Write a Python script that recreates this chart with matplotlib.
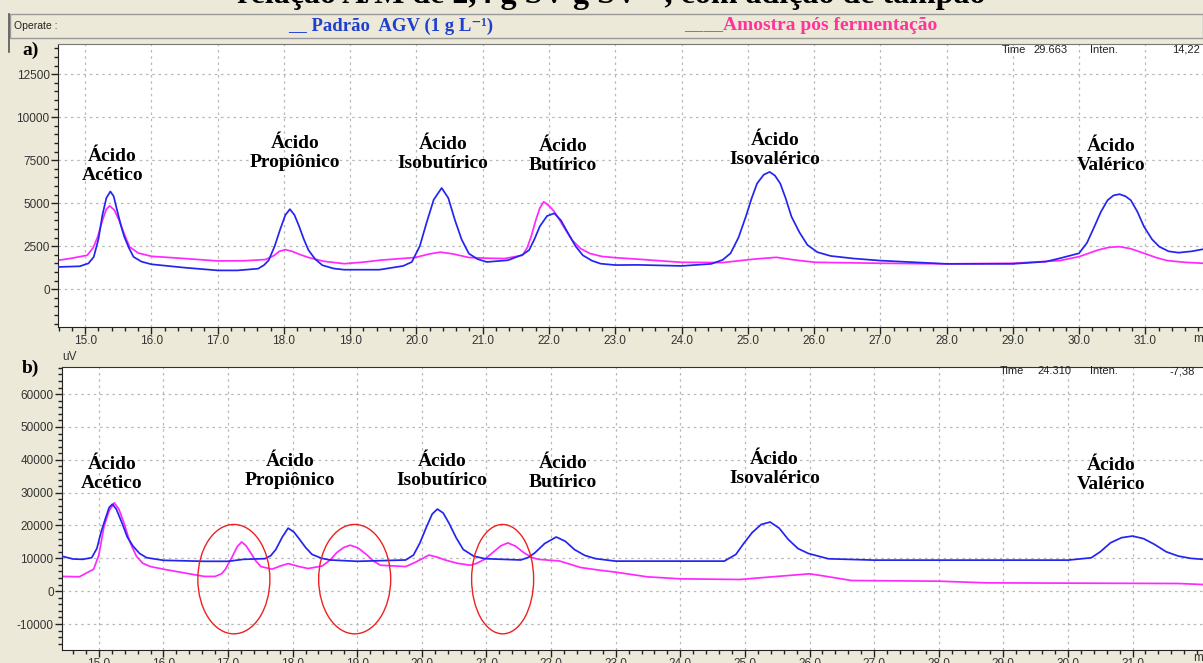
import numpy as np
import matplotlib
matplotlib.use("Agg")
import matplotlib.pyplot as plt
from matplotlib.patches import Ellipse, Rectangle
from matplotlib.ticker import MultipleLocator, FixedLocator, FormatStrFormatter

# --- panel a) : standard (blue) and sample (magenta), time in min, intensity in uV
t_a_std = [14.60, 14.92, 15.05, 15.13, 15.20, 15.26, 15.32, 15.38, 15.43, 15.48, 15.54, 15.59, 15.66,
           15.73, 15.85, 16.00, 16.50, 17.00, 17.30, 17.61, 17.70, 17.77, 17.86, 17.94, 18.02, 18.09,
           18.16, 18.23, 18.30, 18.37, 18.47, 18.58, 18.75, 18.91, 19.44, 19.80, 19.93, 20.05, 20.15,
           20.26, 20.38, 20.48, 20.58, 20.68, 20.79, 20.92, 21.06, 21.38, 21.60, 21.70, 21.78, 21.86,
           21.97, 22.08, 22.18, 22.29, 22.40, 22.51, 22.65, 22.78, 23.00, 23.35, 24.00, 24.45, 24.62,
           24.74, 24.86, 24.97, 25.06, 25.14, 25.24, 25.33, 25.41, 25.49, 25.57, 25.66, 25.78, 25.90,
           26.05, 26.25, 26.60, 27.00, 28.00, 29.00, 29.50, 29.71, 30.00, 30.12, 30.23, 30.33, 30.43,
           30.52, 30.61, 30.70, 30.78, 30.88, 30.98, 31.10, 31.21, 31.35, 31.50, 31.70, 31.87]
i_a_std = [1290, 1330, 1500, 1875, 2900, 4300, 5300, 5680, 5400, 4610, 3700, 3050, 2400,
           1875, 1600, 1445, 1250, 1090, 1090, 1190, 1400, 1680, 2500, 3440, 4300, 4650,
           4300, 3640, 2900, 2270, 1750, 1390, 1200, 1130, 1130, 1350, 1580, 2500, 3830,
           5200, 5880, 5300, 4020, 2900, 2070, 1750, 1580, 1680, 2000, 2270, 2900, 3640,
           4250, 4410, 4000, 3240, 2500, 1970, 1650, 1480, 1400, 1410, 1350, 1470, 1700,
           2085, 3000, 4210, 5300, 6140, 6650, 6815, 6600, 6140, 5300, 4210, 3300, 2570,
           2150, 1930, 1780, 1660, 1470, 1470, 1600, 1795, 2085, 2700, 3630, 4500, 5170,
           5450, 5520, 5400, 5170, 4500, 3630, 2900, 2470, 2200, 2120, 2200, 2320]

t_a_amo = [14.60, 14.80, 15.03, 15.12, 15.19, 15.26, 15.32, 15.37, 15.44, 15.51, 15.59, 15.67, 15.80,
           16.00, 16.50, 17.00, 17.40, 17.72, 17.85, 17.93, 18.02, 18.12, 18.25, 18.37, 18.60, 18.91,
           19.20, 19.44, 19.98, 20.20, 20.36, 20.55, 20.79, 21.05, 21.33, 21.60, 21.67, 21.73, 21.80,
           21.86, 21.92, 22.00, 22.07, 22.14, 22.24, 22.35, 22.48, 22.62, 22.80, 23.00, 23.35, 24.00,
           24.62, 25.08, 25.43, 25.70, 26.02, 27.00, 28.00, 29.00, 29.71, 30.00, 30.29, 30.45, 30.61,
           30.78, 30.98, 31.15, 31.33, 31.60, 31.87]
i_a_amo = [1680, 1800, 1970, 2400, 3050, 4000, 4650, 4840, 4600, 4020, 3200, 2460, 2100,
           1910, 1780, 1640, 1650, 1720, 1950, 2200, 2300, 2200, 2000, 1840, 1620, 1480,
           1570, 1680, 1840, 2050, 2150, 2050, 1840, 1800, 1780, 1970, 2400, 3050, 4000,
           4700, 5080, 4850, 4550, 4150, 3500, 2850, 2350, 2070, 1900, 1830, 1740, 1560,
           1545, 1740, 1850, 1700, 1560, 1505, 1470, 1505, 1660, 1890, 2280, 2430, 2470,
           2350, 2085, 1850, 1660, 1560, 1505]

# --- panel b)
t_b_std = [14.42, 14.60, 14.75, 14.89, 14.97, 15.03, 15.10, 15.16, 15.21, 15.27, 15.36, 15.44, 15.53,
           15.63, 15.74, 16.00, 16.63, 17.00, 17.24, 17.57, 17.66, 17.74, 17.84, 17.93, 18.02, 18.11,
           18.20, 18.30, 18.45, 18.58, 19.00, 19.75, 19.87, 19.97, 20.07, 20.16, 20.24, 20.33, 20.42,
           20.53, 20.64, 20.80, 20.97, 21.53, 21.65, 21.75, 21.90, 22.08, 22.22, 22.36, 22.52, 22.69,
           23.00, 24.68, 24.86, 24.98, 25.11, 25.25, 25.39, 25.53, 25.67, 25.82, 25.98, 26.29, 27.00,
           30.00, 30.36, 30.50, 30.66, 30.83, 31.00, 31.17, 31.34, 31.52, 31.71, 31.90, 32.09]
i_b_std = [10700, 9800, 9700, 10200, 13000, 17700, 22000, 25500, 26500, 25000, 20700, 16500, 13700,
           11500, 10200, 9400, 9100, 9100, 9700, 9900, 10800, 12700, 16500, 19200, 18000, 15700,
           13300, 11200, 10000, 9500, 9100, 9500, 11000, 14700, 19500, 23500, 25000, 23800, 20700,
           16300, 12700, 10700, 9900, 9500, 10300, 11700, 14500, 16500, 15200, 12700, 10900, 9900,
           9155, 9155, 11190, 14500, 17800, 20300, 21060, 19200, 15770, 13000, 11500, 9870, 9460,
           9460, 10170, 12000, 14750, 16300, 16790, 16000, 14240, 12000, 10680, 10000, 9700]

t_b_amo = [14.42, 14.70, 14.92, 15.00, 15.08, 15.16, 15.24, 15.31, 15.39, 15.48, 15.58, 15.68, 15.80,
           16.00, 16.63, 16.80, 16.90, 16.96, 17.07, 17.14, 17.21, 17.28, 17.35, 17.43, 17.51, 17.68,
           17.80, 17.93, 18.10, 18.24, 18.46, 18.58, 18.68, 18.79, 18.89, 19.01, 19.14, 19.25, 19.36,
           19.75, 19.90, 20.11, 20.25, 20.36, 20.55, 20.75, 20.85, 20.97, 21.10, 21.22, 21.33, 21.45,
           21.58, 21.70, 21.80, 22.13, 22.46, 22.75, 23.00, 23.49, 24.00, 24.92, 25.42, 26.00, 26.20,
           26.65, 28.00, 28.74, 31.71, 32.09]
i_b_amo = [4500, 4400, 6700, 11000, 19700, 24500, 26900, 25000, 20700, 15000, 10700, 8500, 7500,
           6700, 4500, 4500, 5300, 6700, 10700, 13500, 15000, 13800, 11700, 9200, 7500, 6700,
           7600, 8400, 7500, 6900, 7700, 9500, 11700, 13300, 14000, 13200, 11200, 9200, 7900,
           7500, 8800, 11000, 10300, 9500, 8500, 7900, 8500, 9700, 11800, 13800, 14700, 13700,
           11700, 10300, 9700, 9200, 7200, 6400, 5800, 4375, 3765, 3560, 4375, 5290, 4700,
           3255, 3050, 2540, 2340, 2035]

# peak labels: (time, intensity) of label centre
acid_names = ["Ácido\nAcético", "Ácido\nPropiônico", "Ácido\nIsobutírico",
              "Ácido\nButírico", "Ácido\nIsovalérico", "Ácido\nValérico"]
label_t_a = [15.41, 18.17, 20.40, 22.21, 25.41, 30.48]
label_i_a = [7150, 7900, 7850, 7730, 8080, 7730]
label_t_b = [15.20, 17.96, 20.31, 22.18, 25.46, 30.67]
label_i_b = [35800, 36700, 36700, 36100, 37300, 35500]

# red circles in panel b): centre time, centre intensity, width (min), height (uV)
circle_t = [17.09, 18.96, 21.25]
circle_i = [3670, 3670, 3670]
circle_w = [1.115, 1.115, 0.96]
circle_h = [33300, 33300, 33300]

x_ticks = list(range(15, 32))

BG = "#ECE9D8"
BLUE = "#2424F0"
MAG = "#FF28FF"
W, H = 1203, 663

plt.rcParams["font.family"] = ["Liberation Sans", "DejaVu Sans"]
plt.rcParams["axes.unicode_minus"] = False
fig = plt.figure(figsize=(W / 100, H / 100), dpi=100, facecolor=BG)


def px_axes(left, top, right, bottom):
    return fig.add_axes([left / W, 1 - bottom / H, (right - left) / W, (bottom - top) / H])


def style(ax, xlim, ylim, ymaj, ymin):
    ax.set_facecolor("white")
    ax.set_xlim(*xlim)
    ax.set_ylim(*ylim)
    ax.xaxis.set_major_locator(FixedLocator(x_ticks))
    ax.xaxis.set_minor_locator(MultipleLocator(0.2))
    ax.xaxis.set_major_formatter(FormatStrFormatter("%.1f"))
    ax.yaxis.set_major_locator(MultipleLocator(ymaj))
    ax.yaxis.set_minor_locator(MultipleLocator(ymin))
    ax.tick_params(which="major", length=5, width=1, color="#222222",
                   labelsize=8.5, labelcolor="#333333", pad=1)
    ax.tick_params(which="minor", length=3, width=1, color="#222222")
    ax.grid(True, which="major", color="#b8b8b8", linestyle=(0, (2, 3)), linewidth=0.9)
    ax.set_axisbelow(True)
    ax.spines["right"].set_visible(False)
    ax.spines["top"].set_color("#777777")
    for s in ("left", "bottom"):
        ax.spines[s].set_color("#222222")


serif = dict(family=["Liberation Serif", "DejaVu Serif"], weight="bold")

# panel a
ax1 = px_axes(58, 44, W, 327)
style(ax1, (14.59, 31.87), (-2200, 14250), 2500, 500)
ax1.plot(t_a_std, i_a_std, color=BLUE, lw=1.25, zorder=3)
ax1.plot(t_a_amo, i_a_amo, color=MAG, lw=1.25, zorder=2)
for name, x, y in zip(acid_names, label_t_a, label_i_a):
    ax1.text(x, y, name, ha="center", va="center", fontsize=14, linespacing=1.15, color="black", **serif)

# panel b
ax2 = px_axes(62, 367, W, 650)
style(ax2, (14.43, 32.09), (-17900, 68250), 10000, 2000)
ax2.spines["top"].set_color("#333333")
ax2.plot(t_b_std, i_b_std, color=BLUE, lw=1.25, zorder=3)
ax2.plot(t_b_amo, i_b_amo, color=MAG, lw=1.25, zorder=2)
for name, x, y in zip(acid_names, label_t_b, label_i_b):
    ax2.text(x, y, name, ha="center", va="center", fontsize=14, linespacing=1.15, color="black", **serif)
for x, y, w, h in zip(circle_t, circle_i, circle_w, circle_h):
    ax2.add_patch(Ellipse((x, y), w, h, fill=False, edgecolor="#EE2020", lw=1.0, zorder=4))

# window chrome: header bar, labels and status texts
fig.patches.append(Rectangle((10 / W, 1 - 38 / H), (W - 10) / W, 24 / H, transform=fig.transFigure,
                             facecolor=BG, edgecolor="#9a9a9a", lw=1.0, zorder=0))
fig.add_artist(plt.Line2D([9 / W, 9 / W], [1 - 14 / H, 1 - 52 / H], color="#555555", lw=1.2))
fig.text(14 / W, 1 - 26 / H, "Operate :", fontsize=7.5, color="#222222", va="center")
fig.text(611 / W, 1 - 3 / H, "relação A/M de 2,4 g SV g SV⁻¹, com adição de tampão",
         ha="center", va="baseline", fontsize=23, color="black", **serif)
fig.text(288 / W, 1 - 26 / H, "__ Padrão  AGV (1 g L⁻¹)", ha="left", va="center",
         fontsize=13.5, color="#1F3FD0", **serif)
fig.text(684 / W, 1 - 26 / H, "____Amostra pós fermentação", ha="left", va="center",
         fontsize=14, color="#FF3399", **serif)
fig.text(22 / W, 1 - 50 / H, "a)", ha="left", va="center", fontsize=14, color="black", **serif)
fig.text(22 / W, 1 - 368 / H, "b)", ha="left", va="center", fontsize=14, color="black", **serif)
fig.text(62 / W, 1 - 357 / H, "uV", ha="left", va="center", fontsize=8.5, color="#333333")
fig.text(1193 / W, 1 - 339 / H, "min", ha="left", va="center", fontsize=8.5, color="#333333")
fig.text(1193 / W, 1 - 658 / H, "min", ha="left", va="center", fontsize=8.5, color="#333333")

info = [("Time", 1002, 50), ("29.663", 1033, 50), ("Inten.", 1090, 50), ("14,22", 1172, 50),
        ("Time", 1000, 371), ("24.310", 1037, 371), ("Inten.", 1090, 371), ("-7,38", 1170, 371)]
for s, x, y in info:
    fig.text(x / W, 1 - y / H, s, ha="left", va="center", fontsize=8, color="#222222")

fig.savefig("out.png", dpi=100, facecolor=BG)
